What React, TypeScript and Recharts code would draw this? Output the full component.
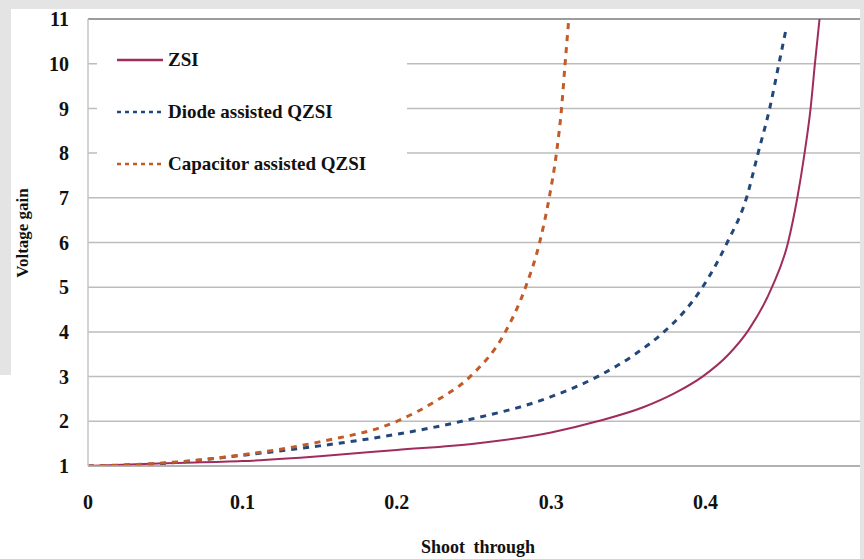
import React from 'react'
import {
  LineChart,
  Line,
  XAxis,
  YAxis,
  CartesianGrid,
  ReferenceLine,
} from 'recharts'

// shoot-through duty ratio (x) and voltage gain (y)
const zsiDuty = [0, 0.05, 0.1, 0.15, 0.2, 0.25, 0.3, 0.33, 0.36, 0.38, 0.398, 0.415, 0.428, 0.443, 0.4534, 0.4594, 0.4641, 0.468, 0.4708, 0.4738]
const zsiGain = [1, 1.06, 1.11, 1.22, 1.36, 1.5, 1.75, 2, 2.32, 2.63, 3, 3.5, 4.05, 5, 6, 7, 8, 9, 10, 11]

const diodeDuty = [0, 0.05, 0.1, 0.15, 0.2, 0.242, 0.3, 0.33, 0.353, 0.373, 0.386, 0.398, 0.414, 0.4265, 0.434, 0.4415, 0.4475, 0.4518]
const diodeGain = [1, 1.06, 1.24, 1.45, 1.71, 2, 2.55, 3, 3.47, 4, 4.45, 5, 6, 7, 8, 9, 10, 10.72]

const capDuty = [0, 0.05, 0.1, 0.15, 0.2, 0.225, 0.2475, 0.2703, 0.2834, 0.2925, 0.2987, 0.3034, 0.3067, 0.309, 0.3114]
const capGain = [1, 1.07, 1.25, 1.54, 2, 2.45, 3, 4, 5, 6, 7, 8, 9, 10, 11]

const xTicks = [0, 0.1, 0.2, 0.3, 0.4]
const yTicks = [1, 2, 3, 4, 5, 6, 7, 8, 9, 10, 11]

const seriesNames = ['ZSI', 'Diode assisted QZSI', 'Capacitor assisted QZSI']

const toPoints = (xs: number[], ys: number[]) => xs.map((d, i) => ({ d, g: ys[i] }))

const zsiData = toPoints(zsiDuty, zsiGain)
const diodeData = toPoints(diodeDuty, diodeGain)
const capData = toPoints(capDuty, capGain)

const SERIF = "'Liberation Serif', 'Times New Roman', serif"
const COLORS = ['#a02c5c', '#23477a', '#c25b27']

const tickStyle = { fontSize: 20, fontWeight: 700, fontFamily: SERIF, fill: '#111' }

function LegendBox() {
  const rows = [
    { name: seriesNames[0], color: COLORS[0], dash: undefined },
    { name: seriesNames[1], color: COLORS[1], dash: '4 4' },
    { name: seriesNames[2], color: COLORS[2], dash: '4 4' },
  ]
  return (
    <div style={{ position: 'absolute', left: 97, top: 35, width: 310, height: 142, background: '#fff' }}>
      {rows.map((r, i) => (
        <div
          key={r.name}
          style={{ position: 'absolute', left: 20, top: 25 + i * 52 - 14, height: 28, display: 'flex', alignItems: 'center' }}
        >
          <svg width={46} height={6} style={{ display: 'block' }}>
            <line x1={0} y1={3} x2={46} y2={3} stroke={r.color} strokeWidth={2.5} strokeDasharray={r.dash} />
          </svg>
          <span
            style={{ marginLeft: 5, fontFamily: SERIF, fontWeight: 700, fontSize: 19, color: '#111', whiteSpace: 'nowrap' }}
          >
            {r.name}
          </span>
        </div>
      ))}
    </div>
  )
}

export default function App() {
  return (
    <div style={{ position: 'absolute', left: 0, top: 0, width: 864, height: 559, background: '#e4e4e4', overflow: 'hidden' }}>
      <div style={{ position: 'absolute', left: 11, top: 9, width: 849, height: 550, background: '#fff' }} />
      <div style={{ position: 'absolute', left: 0, top: 375, width: 11, height: 184, background: '#fff' }} />
      <div style={{ position: 'absolute', left: 0, top: 0 }}>
        <LineChart width={864} height={559} margin={{ top: 19, right: 4, left: 0, bottom: 0 }}>
          <CartesianGrid vertical={false} stroke="#bdbdbd" strokeWidth={1.5} />
          <XAxis
            type="number"
            dataKey="d"
            domain={[0, 0.5]}
            ticks={xTicks}
            allowDataOverflow
            height={93}
            tickLine={false}
            tickMargin={23}
            axisLine={{ stroke: '#a8a8a8', strokeWidth: 1.5 }}
            tick={tickStyle}
          />
          <YAxis
            type="number"
            domain={[1, 11]}
            ticks={yTicks}
            allowDataOverflow
            width={88}
            tickLine={false}
            tickMargin={13}
            axisLine={{ stroke: '#c4c4c4', strokeWidth: 1.5 }}
            tick={tickStyle}
          />
          <ReferenceLine y={11} stroke="#9c9c9c" strokeWidth={2} />
          <Line
            data={zsiData}
            dataKey="g"
            name={seriesNames[0]}
            type="monotone"
            stroke={COLORS[0]}
            strokeWidth={2}
            dot={false}
            isAnimationActive={false}
          />
          <Line
            data={diodeData}
            dataKey="g"
            name={seriesNames[1]}
            type="monotone"
            stroke={COLORS[1]}
            strokeWidth={3}
            strokeDasharray="6 6"
            dot={false}
            isAnimationActive={false}
          />
          <Line
            data={capData}
            dataKey="g"
            name={seriesNames[2]}
            type="monotone"
            stroke={COLORS[2]}
            strokeWidth={3}
            strokeDasharray="6 6"
            dot={false}
            isAnimationActive={false}
          />
        </LineChart>
      </div>
      <LegendBox />
      <div
        style={{
          position: 'absolute',
          left: 478,
          top: 547,
          transform: 'translate(-50%, -50%)',
          fontFamily: SERIF,
          fontWeight: 700,
          fontSize: 18,
          wordSpacing: 4,
          color: '#111',
          whiteSpace: 'nowrap',
        }}
      >
        Shoot through
      </div>
      <div
        style={{
          position: 'absolute',
          left: 23,
          top: 233,
          transform: 'translate(-50%, -50%) rotate(-90deg)',
          fontFamily: SERIF,
          fontWeight: 700,
          fontSize: 17,
          color: '#111',
          whiteSpace: 'nowrap',
        }}
      >
        Voltage gain
      </div>
    </div>
  )
}
